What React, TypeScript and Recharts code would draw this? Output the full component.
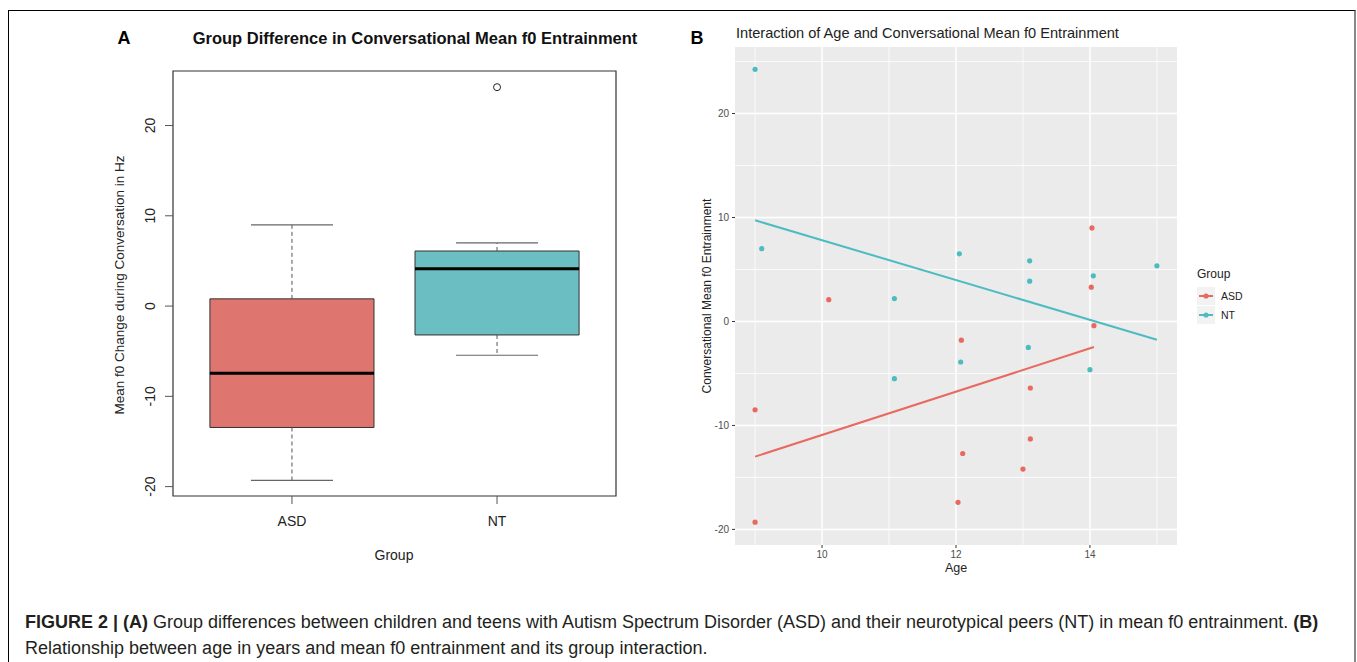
import React from "react"
import {
  ScatterChart,
  Scatter,
  XAxis,
  YAxis,
  CartesianGrid,
  ReferenceArea,
  ReferenceLine
} from "recharts"

// Panel A: box plot stats
const groups = ["ASD", "NT"]
const boxMin = [-19.3, -5.45]
const boxQ1 = [-13.45, -3.2]
const boxMedian = [-7.45, 4.13]
const boxQ3 = [0.8, 6.1]
const boxMax = [9.0, 7.0]
const boxFill = ["#de756e", "#6bbec1"]
const outliers = [{ x: 2, y: 24.25 }]
const panelATicks = [-20, -10, 0, 10, 20]

// Panel B: age vs entrainment
const asdPoints = [
  { age: 9.0, value: -8.5 },
  { age: 9.0, value: -19.3 },
  { age: 10.1, value: 2.1 },
  { age: 12.03, value: -17.4 },
  { age: 12.08, value: -1.8 },
  { age: 12.1, value: -12.7 },
  { age: 13.0, value: -14.2 },
  { age: 13.11, value: -6.4 },
  { age: 13.11, value: -11.3 },
  { age: 14.02, value: 3.3 },
  { age: 14.03, value: 9.0 },
  { age: 14.06, value: -0.4 }
]
const ntPoints = [
  { age: 9.0, value: 24.25 },
  { age: 9.1, value: 7.0 },
  { age: 11.08, value: 2.2 },
  { age: 11.08, value: -5.5 },
  { age: 12.05, value: 6.5 },
  { age: 12.07, value: -3.9 },
  { age: 13.08, value: -2.5 },
  { age: 13.1, value: 5.83 },
  { age: 13.1, value: 3.88 },
  { age: 14.0, value: -4.64 },
  { age: 14.05, value: 4.39 },
  { age: 15.0, value: 5.35 }
]
const asdFit = [
  { age: 9.0, value: -13.0 },
  { age: 14.06, value: -2.46 }
]
const ntFit = [
  { age: 9.0, value: 9.73 },
  { age: 15.0, value: -1.76 }
]
const majorX = [10, 12, 14]
const minorX = [9, 11, 13, 15]
const majorY = [-20, -10, 0, 10, 20]
const minorY = [-15, -5, 5, 15, 25]

const ASD_COLOR = "#e8695f"
const NT_COLOR = "#4cbcc1"
const FONT = "'Liberation Sans', Arial, sans-serif"

const RotatedTick = (props: any) => {
  const { x, y, payload } = props
  return (
    <text
      x={x}
      y={y}
      transform={`rotate(-90 ${x} ${y})`}
      textAnchor="middle"
      dominantBaseline="central"
      fontSize={14}
      fill="#222"
      fontFamily={FONT}
    >
      {payload.value}
    </text>
  )
}

const OpenCircle = (props: any) => (
  <circle cx={props.cx} cy={props.cy} r={3.5} fill="none" stroke="#222" strokeWidth={1} />
)

const dot = (color: string) => (props: any) => (
  <circle cx={props.cx} cy={props.cy} r={2.6} fill={color} />
)

const noDot = () => <g />

function PanelA() {
  return (
    <ScatterChart
      width={660}
      height={600}
      margin={{ top: 71, right: 44, bottom: 74, left: 113 }}
      style={{ fontFamily: FONT }}
    >
      <XAxis
        type="number"
        dataKey="x"
        domain={[0.42, 2.58]}
        ticks={[1, 2]}
        allowDataOverflow
        axisLine={false}
        tickSize={8}
        tickMargin={12}
        tickLine={{ stroke: "#555" }}
        tick={{ fill: "#222", fontSize: 14 }}
        tickFormatter={(v: number) => groups[v - 1]}
        height={30}
      />
      <YAxis
        type="number"
        dataKey="y"
        domain={[-21.04, 26.04]}
        ticks={panelATicks}
        allowDataOverflow
        axisLine={false}
        width={60}
        tickSize={8}
        tickMargin={15}
        tickLine={{ stroke: "#555" }}
        tick={RotatedTick}
      />
      <ReferenceArea
        x1={0.42}
        x2={2.58}
        y1={-21.04}
        y2={26.04}
        fill="none"
        fillOpacity={0}
        stroke="#333"
        strokeWidth={1.2}
      />
      {groups.map((g, i) => {
        const c = i + 1
        return (
          <React.Fragment key={g}>
            <ReferenceLine
              segment={[{ x: c, y: boxQ3[i] }, { x: c, y: boxMax[i] }]}
              stroke="#555"
              strokeDasharray="4 3"
            />
            <ReferenceLine
              segment={[{ x: c, y: boxQ1[i] }, { x: c, y: boxMin[i] }]}
              stroke="#555"
              strokeDasharray="4 3"
            />
            <ReferenceLine
              segment={[{ x: c - 0.2, y: boxMax[i] }, { x: c + 0.2, y: boxMax[i] }]}
              stroke="#666"
              strokeWidth={1.2}
            />
            <ReferenceLine
              segment={[{ x: c - 0.2, y: boxMin[i] }, { x: c + 0.2, y: boxMin[i] }]}
              stroke="#666"
              strokeWidth={1.2}
            />
            <ReferenceArea
              x1={c - 0.4}
              x2={c + 0.4}
              y1={boxQ1[i]}
              y2={boxQ3[i]}
              fill={boxFill[i]}
              fillOpacity={1}
              stroke="#333"
              strokeWidth={1}
            />
            <ReferenceLine
              segment={[{ x: c - 0.4, y: boxMedian[i] }, { x: c + 0.4, y: boxMedian[i] }]}
              stroke="#000"
              strokeWidth={3}
            />
          </React.Fragment>
        )
      })}
      <Scatter data={outliers} shape={OpenCircle} isAnimationActive={false} />
    </ScatterChart>
  )
}

function PanelB() {
  return (
    <ScatterChart
      width={520}
      height={600}
      margin={{ top: 47, right: 23, bottom: 25, left: 15 }}
      style={{ fontFamily: FONT }}
    >
      <CartesianGrid
        fill="#ebebeb"
        stroke="#ffffff"
        strokeWidth={0.8}
        horizontalValues={minorY}
        verticalValues={minorX}
      />
      <CartesianGrid
        stroke="#ffffff"
        strokeWidth={1.5}
        horizontalValues={majorY}
        verticalValues={majorX}
      />
      <XAxis
        type="number"
        dataKey="age"
        domain={[8.7, 15.3]}
        ticks={majorX}
        allowDataOverflow
        axisLine={false}
        tickSize={3}
        tickMargin={3}
        tickLine={{ stroke: "#333" }}
        tick={{ fill: "#4d4d4d", fontSize: 10 }}
        height={30}
      />
      <YAxis
        type="number"
        dataKey="value"
        domain={[-21.5, 26.4]}
        ticks={majorY}
        allowDataOverflow
        axisLine={false}
        width={40}
        tickSize={3}
        tickMargin={3}
        tickLine={{ stroke: "#333" }}
        tick={{ fill: "#4d4d4d", fontSize: 10 }}
      />
      <Scatter name="ASD" data={asdPoints} shape={dot(ASD_COLOR)} isAnimationActive={false} />
      <Scatter name="NT" data={ntPoints} shape={dot(NT_COLOR)} isAnimationActive={false} />
      <Scatter
        data={asdFit}
        line={{ stroke: ASD_COLOR, strokeWidth: 2 }}
        shape={noDot}
        isAnimationActive={false}
      />
      <Scatter
        data={ntFit}
        line={{ stroke: NT_COLOR, strokeWidth: 2 }}
        shape={noDot}
        isAnimationActive={false}
      />
    </ScatterChart>
  )
}

export default function App() {
  return (
    <div
      style={{
        position: "absolute",
        left: 0,
        top: 0,
        width: 1357,
        height: 662,
        overflow: "hidden",
        background: "#fff",
        fontFamily: FONT
      }}
    >
      {/* figure frame */}
      <div
        style={{
          position: "absolute",
          left: 8,
          top: 10,
          width: 1345,
          height: 720,
          borderTop: "1px solid #000",
          borderLeft: "1px solid #000",
          borderRight: "2px solid #888"
        }}
      />

      <div style={{ position: "absolute", left: 0, top: 0 }}>
        <PanelA />
      </div>
      <div style={{ position: "absolute", left: 680, top: 0 }}>
        <PanelB />
      </div>

      <svg
        width={1357}
        height={662}
        style={{ position: "absolute", left: 0, top: 0, pointerEvents: "none" }}
        fontFamily={FONT}
      >
        {/* panel A labels */}
        <text x={124} y={38} fontSize={18} fontWeight="bold" textAnchor="middle" dominantBaseline="central" fill="#000">A</text>
        <text x={415} y={38} fontSize={16.5} fontWeight="bold" textAnchor="middle" dominantBaseline="central" fill="#111">
          Group Difference in Conversational Mean f0 Entrainment
        </text>
        <text
          x={119}
          y={285}
          transform="rotate(-90 119 285)"
          fontSize={13.5}
          textAnchor="middle"
          dominantBaseline="central"
          fill="#222"
        >
          Mean f0 Change during Conversation in Hz
        </text>
        <text x={394} y={555} fontSize={14} textAnchor="middle" dominantBaseline="central" fill="#222">Group</text>

        {/* panel B labels */}
        <text x={697} y={38} fontSize={18} fontWeight="bold" textAnchor="middle" dominantBaseline="central" fill="#000">B</text>
        <text x={736} y={33} fontSize={14.6} dominantBaseline="central" fill="#222">
          Interaction of Age and Conversational Mean f0 Entrainment
        </text>
        <text
          x={707}
          y={296}
          transform="rotate(-90 707 296)"
          fontSize={12}
          textAnchor="middle"
          dominantBaseline="central"
          fill="#222"
        >
          Conversational Mean f0 Entrainment
        </text>
        <text x={956} y={568} fontSize={12.5} textAnchor="middle" dominantBaseline="central" fill="#222">Age</text>

        {/* legend */}
        <text x={1197} y={274} fontSize={12} dominantBaseline="central" fill="#222">Group</text>
        {groups.map((g, i) => {
          const cy = 296 + i * 19
          const color = i === 0 ? ASD_COLOR : NT_COLOR
          return (
            <g key={g}>
              <rect x={1197} y={cy - 9} width={18} height={18} fill="#f2f2f2" />
              <line x1={1199} x2={1213} y1={cy} y2={cy} stroke={color} strokeWidth={2} />
              <circle cx={1206} cy={cy} r={2.6} fill={color} />
              <text x={1221} y={cy} fontSize={10.5} dominantBaseline="central" fill="#222">{g}</text>
            </g>
          )
        })}
      </svg>

      {/* caption */}
      <div
        style={{
          position: "absolute",
          left: 25,
          top: 609,
          fontSize: 18,
          lineHeight: "26px",
          color: "#231f20",
          whiteSpace: "nowrap"
        }}
      >
        <b>FIGURE 2 | (A)</b> Group differences between children and teens with Autism Spectrum Disorder (ASD) and their neurotypical peers (NT) in mean f0 entrainment. <b>(B)</b>
        <br />
        Relationship between age in years and mean f0 entrainment and its group interaction.
      </div>
    </div>
  )
}
